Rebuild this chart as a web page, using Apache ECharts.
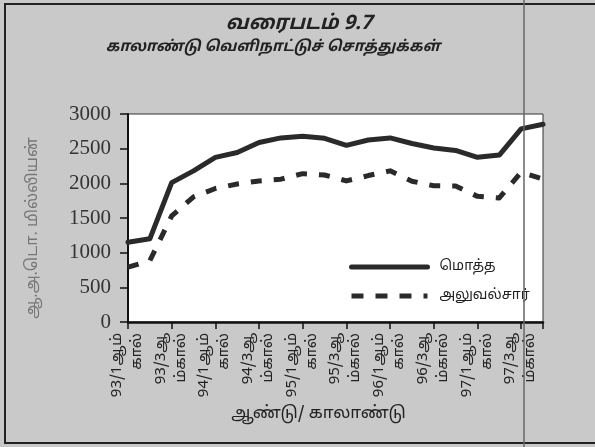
<!DOCTYPE html>
<html>
<head>
<meta charset="utf-8">
<script src="https://cdn.jsdelivr.net/npm/echarts@6/dist/echarts.min.js"></script>
<style>
html, body { margin: 0; padding: 0; background: #c8c8c8; }
#chart { width: 595px; height: 447px; }
</style>
</head>
<body>
<div id="chart"></div>
<script>
// காலாண்டுகள் 1993 Q1 - 1997 Q4
const quarters = ['93/1', '93/2', '93/3', '93/4', '94/1', '94/2', '94/3', '94/4', '95/1', '95/2',
	'95/3', '95/4', '96/1', '96/2', '96/3', '96/4', '97/1', '97/2', '97/3', '97/4']
// labels shown on every other quarter (as wrapped in the original)
const tickLabels = ['93/1ஆம்\nகால்', '93/3ஆ\nம்கால்', '94/1ஆம்\nகால்', '94/3ஆ\nம்கால்', '95/1ஆம்\nகால்',
	'95/3ஆ\nம்கால்', '96/1ஆம்\nகால்', '96/3ஆ\nம்கால்', '97/1ஆம்\nகால்', '97/3ஆ\nம்கால்']
const totalAssets = [1150, 1200, 2010, 2180, 2375, 2445, 2590, 2655, 2680, 2650,
	2548, 2625, 2655, 2575, 2510, 2475, 2375, 2408, 2785, 2853]
const officialAssets = [790, 885, 1530, 1805, 1925, 1990, 2035, 2060, 2140, 2120,
	2035, 2112, 2180, 2030, 1965, 1962, 1812, 1790, 2160, 2060]

const tamilFont = '"Noto Sans Tamil", "Noto Sans", sans-serif'
const chart = echarts.init(document.getElementById('chart'), null, { renderer: 'canvas' })

const option = {
	backgroundColor: '#c9c9c9',
	animation: false,
	title: [
		{
			text: 'வரைபடம் 9.7',
			left: 294,
			textAlign: 'center',
			top: 10,
			textStyle: { fontFamily: tamilFont, fontSize: 20, fontWeight: 'bold', fontStyle: 'italic', color: '#222' }
		},
		{
			text: 'காலாண்டு வெளிநாட்டுச் சொத்துக்கள்',
			left: 268,
			textAlign: 'center',
			top: 35,
			textStyle: { fontFamily: tamilFont, fontSize: 15, fontWeight: 'bold', fontStyle: 'italic', color: '#222' }
		}
	],
	legend: {
		orient: 'vertical',
		left: 349,
		top: 260,
		padding: 0,
		itemWidth: 76,
		itemHeight: 14,
		itemGap: 15,
		selectedMode: false,
		itemStyle: { opacity: 0 },
		lineStyle: { width: 5 },
		textStyle: { fontFamily: tamilFont, fontSize: 14, color: '#222', padding: [0, 0, 0, 7] },
		data: ['மொத்த', { name: 'அலுவல்சார்', lineStyle: { width: 5, type: [12, 12] } }]
	},
	grid: {
		left: 128,
		right: 52,
		top: 114,
		bottom: 125,
		show: true,
		backgroundColor: '#fff',
		borderColor: '#333',
		borderWidth: 1
	},
	xAxis: {
		type: 'category',
		data: quarters,
		boundaryGap: false,
		name: 'ஆண்டு/ காலாண்டு',
		nameLocation: 'middle',
		nameGap: 84,
		nameTextStyle: { fontFamily: tamilFont, fontSize: 17, color: '#222', padding: [0, 34, 0, 0] },
		axisLine: { lineStyle: { color: '#111', width: 2.5 } },
		axisTick: { interval: 1, length: 7, lineStyle: { color: '#111', width: 1.5 } },
		axisLabel: {
			interval: 1,
			showMinLabel: true,
			showMaxLabel: true,
			hideOverlap: false,
			rotate: 90,
			margin: 11,
			fontFamily: tamilFont,
			fontSize: 15,
			lineHeight: 20,
			color: '#222',
			formatter: (value, index) => tickLabels[index / 2] || ''
		},
		splitLine: { show: false }
	},
	yAxis: {
		type: 'value',
		min: 0,
		max: 3000,
		interval: 500,
		name: 'ஆ.அ.டொ. மில்லியன்',
		nameLocation: 'middle',
		nameGap: 86,
		nameTextStyle: { fontFamily: tamilFont, fontSize: 16, color: '#777', padding: [0, 20, 0, 0] },
		axisLine: { show: true, lineStyle: { color: '#111', width: 2 } },
		axisTick: { show: true, length: 8, lineStyle: { color: '#111', width: 1.5 } },
		axisLabel: {
			margin: 17,
			fontFamily: '"Liberation Serif", serif',
			fontSize: 21,
			color: '#333',
			formatter: (v) => String(v)
		},
		splitLine: { show: false }
	},
	series: [
		{
			name: 'மொத்த',
			type: 'line',
			data: totalAssets,
			symbol: 'none',
			lineStyle: { color: '#2a2a2a', width: 5, cap: 'round', join: 'round' },
			itemStyle: { color: '#2a2a2a' }
		},
		{
			name: 'அலுவல்சார்',
			type: 'line',
			data: officialAssets,
			symbol: 'none',
			lineStyle: { color: '#2a2a2a', width: 5, type: [11, 12], join: 'round' },
			itemStyle: { color: '#2a2a2a' }
		}
	],
	graphic: [
		{
			// outer frame of the scanned figure
			type: 'rect',
			shape: { x: 5, y: 4, width: 610, height: 439 },
			style: { fill: 'none', stroke: '#222', lineWidth: 2 },
			silent: true
		},
		{
			// page fold line in the scan
			type: 'line',
			shape: { x1: 524, y1: 0, x2: 524, y2: 447 },
			style: { stroke: '#666', lineWidth: 1.5 },
			z: 100,
			silent: true
		}
	]
}
chart.setOption(option)
</script>
</body>
</html>
